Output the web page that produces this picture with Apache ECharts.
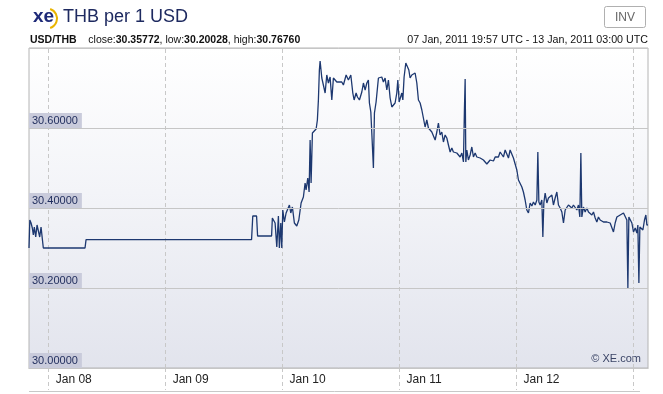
<!DOCTYPE html>
<html>
<head>
<meta charset="utf-8">
<script src="https://cdn.jsdelivr.net/npm/echarts@6/dist/echarts.min.js"></script>
<style>
html,body{margin:0;padding:0;background:#fff;}
#chart{width:663px;height:394px;}
</style>
</head>
<body>
<div id="chart"></div>
<script>
// Hours since 08 Jan 2011 00:00 UTC
const hours = [
-4.05,-3.88,-3.63,-3.37,-3.16,-2.96,-2.67,-2.40,-2.14,-1.85,-1.58,-1.31,-1.11,
7.45,7.66,41.63,41.88,42.66,42.87,45.74,45.90,46.46,46.81,47.14,47.34,47.63,47.83,
48.04,48.37,48.72,49.07,49.40,49.68,50.01,50.42,50.91,51.33,51.80,52.27,52.62,52.82,
53.17,53.44,53.65,53.85,54.12,54.47,54.88,55.14,55.35,55.55,55.70,56.05,56.38,56.73,
57.07,57.40,57.75,58.10,58.43,58.78,59.13,59.46,60.15,60.48,61.04,61.51,62.00,62.41,
62.68,63.09,63.36,63.77,64.26,64.59,64.94,65.29,65.61,65.82,66.11,66.31,66.64,66.85,
67.19,67.46,67.67,68.02,68.36,68.69,69.04,69.39,69.72,70.07,70.42,70.75,71.09,71.44,
71.65,71.92,72.18,72.47,72.68,72.94,73.29,73.62,73.91,74.17,74.52,74.85,75.20,75.55,
75.88,76.23,76.58,76.90,77.25,77.60,77.93,78.28,78.63,78.96,79.31,79.66,79.98,80.33,
80.68,81.01,81.36,81.71,82.04,82.39,82.74,83.06,83.41,83.76,84.09,84.44,84.79,85.12,
85.32,85.47,85.61,85.82,86.14,86.49,86.84,87.17,87.52,87.87,88.20,88.55,88.89,89.22,
89.57,89.92,90.25,90.60,90.95,91.28,91.63,91.97,92.30,92.65,93.00,93.33,93.68,94.03,
94.36,94.70,95.05,95.38,95.73,96.08,96.41,96.76,97.11,97.43,97.78,98.13,98.46,98.81,
99.16,99.49,99.84,100.19,100.39,100.60,100.86,101.21,101.42,101.62,101.89,102.24,102.57,
102.92,103.27,103.59,103.94,104.29,104.62,104.97,105.32,105.65,106.00,106.35,106.67,
107.02,107.37,107.70,108.05,108.40,108.73,109.01,109.22,109.42,109.75,110.10,110.45,
110.78,111.13,111.48,111.81,112.16,112.50,112.83,113.18,113.53,113.86,114.21,114.56,
114.89,115.23,115.58,115.91,116.26,116.61,116.94,117.29,117.64,117.97,118.31,118.66,
118.87,119.07,119.34,119.69,120.02,120.37,120.72,120.92,121.13,121.33,121.60,121.95,
122.28,122.56,122.77,123.00
];
const rates = [
30.3000,30.3700,30.3625,30.3500,30.3325,30.3525,30.3275,30.3575,30.3525,30.3275,30.3525,30.3475,30.3000,
30.3000,30.3210,30.3210,30.3800,30.3800,30.3300,30.3300,30.3750,30.3625,30.3025,30.3800,30.3000,30.3625,30.3000,
30.3950,30.3650,30.3875,30.3825,30.4075,30.3875,30.4025,30.3625,30.3550,30.3700,30.4125,30.4275,30.4625,30.4450,
30.4750,30.4400,30.5700,30.4625,30.5875,30.5900,30.5975,30.6200,30.6700,30.7450,30.7676,30.7250,30.7275,30.6875,
30.7325,30.7125,30.7275,30.6700,30.7250,30.7275,30.7150,30.7100,30.7150,30.7075,30.7325,30.7200,30.7325,30.6875,
30.6700,30.6875,30.6775,30.6700,30.6900,30.7125,30.6950,30.7125,30.7200,30.6625,30.6400,30.5875,30.5000,30.6375,
30.6650,30.6625,30.7250,30.7200,30.7275,30.7150,30.7250,30.6950,30.7200,30.6750,30.6525,30.6500,30.6625,30.6875,
30.7200,30.6650,30.6700,30.6875,30.6700,30.7275,30.7625,30.7575,30.7450,30.7250,30.7325,30.7275,30.7375,30.7125,
30.6700,30.6625,30.6450,30.6250,30.6025,30.6200,30.6000,30.5950,30.5900,30.5875,30.5700,30.5900,30.6125,30.5825,
30.5900,30.5650,30.5825,30.5750,30.5575,30.5400,30.5500,30.5400,30.5450,30.5375,30.5400,30.5275,30.5375,30.5150,
30.6450,30.7225,30.5150,30.5450,30.5200,30.5325,30.5525,30.5275,30.5375,30.5275,30.5325,30.5250,30.5275,30.5200,
30.5150,30.5100,30.5150,30.5200,30.5250,30.5175,30.5275,30.5325,30.5275,30.5400,30.5450,30.5275,30.5450,30.5400,
30.5250,30.5450,30.5400,30.5250,30.5200,30.4950,30.4700,30.4650,30.4525,30.4400,30.4200,30.3950,30.3875,30.4125,
30.4050,30.4150,30.4075,30.4200,30.5400,30.4150,30.4075,30.4200,30.3275,30.4125,30.4375,30.4125,30.4250,
30.4200,30.4325,30.4075,30.4250,30.4400,30.4075,30.4000,30.3900,30.3625,30.3950,30.4000,30.4075,
30.4025,30.4000,30.4075,30.4025,30.3950,30.4075,30.3775,30.5375,30.3775,30.4025,30.3900,30.4000,
30.3900,30.3950,30.3825,30.3900,30.3750,30.3650,30.3775,30.3700,30.3750,30.3650,30.3700,30.3650,
30.3650,30.3625,30.3625,30.3400,30.3625,30.3775,30.3750,30.3825,30.3775,30.3875,30.3825,30.3700,
30.20028,30.3775,30.3825,30.3625,30.3400,30.3500,30.3375,30.3575,30.2125,30.3525,30.3575,30.3450,
30.3700,30.3825,30.3575,30.35772
];
const dayTicks = [0, 24, 48, 72, 96, 120];
const tickLabels = ['Jan 08', 'Jan 09', 'Jan 10', 'Jan 11', 'Jan 12'];
const yTicks = [30.0, 30.2, 30.4, 30.6, 30.8];

const chart = echarts.init(document.getElementById('chart'), null, {renderer: 'canvas'});
const data = hours.map((h, i) => [h, rates[i]]);
const FONT = 'Arial, "Liberation Sans", sans-serif';

chart.setOption({
  animation: false,
  backgroundColor: '#ffffff',
  grid: {
    left: 29, right: 15, top: 48, bottom: 26,
    show: true,
    borderColor: '#b4b4b4',
    borderWidth: 1,
    backgroundColor: {
      type: 'linear', x: 0, y: 0, x2: 0, y2: 1,
      colorStops: [
        {offset: 0, color: '#ffffff'},
        {offset: 0.45, color: '#f3f4f8'},
        {offset: 1, color: '#e2e4ed'}
      ]
    }
  },
  xAxis: {
    type: 'value',
    min: hours[0],
    max: hours[hours.length - 1],
    z: 1,
    axisLine: {show: true, lineStyle: {color: '#a8a8a8', width: 1}},
    axisTick: {
      show: true,
      customValues: dayTicks,
      length: 22,
      lineStyle: {color: '#c8c8c8', type: [4, 3]}
    },
    splitLine: {show: false},
    axisLabel: {
      customValues: dayTicks.slice(0, tickLabels.length),
      formatter: v => tickLabels[Math.round(v / 24)] || '',
      align: 'left',
      padding: [0, 0, 0, 7],
      margin: 6,
      color: '#222',
      fontSize: 12,
      fontFamily: FONT
    }
  },
  yAxis: {
    type: 'value',
    min: yTicks[0],
    max: yTicks[yTicks.length - 1],
    interval: 0.2,
    z: 4,
    axisLine: {show: false},
    axisTick: {show: false},
    splitLine: {show: true, lineStyle: {color: '#c6c6c6', width: 1}},
    axisLabel: {
      inside: true,
      showMaxLabel: false,
      margin: 0,
      align: 'left',
      verticalAlign: 'bottom',
      formatter: v => v.toFixed(5),
      color: '#1f2c5c',
      fontSize: 11,
      fontFamily: FONT,
      backgroundColor: '#c9cbdb',
      padding: [2, 4, 1, 3],
      lineHeight: 12
    }
  },
  series: [{
    type: 'line',
    data: data,
    showSymbol: false,
    symbol: 'none',
    lineStyle: {color: '#1d3870', width: 1.3},
    z: 3,
    markLine: {
      silent: true,
      symbol: ['none', 'none'],
      label: {show: false},
      lineStyle: {color: '#c8c8c8', type: [4, 3], width: 1},
      data: dayTicks.map(d => ({xAxis: d})),
      z: 2
    }
  }],
  graphic: [
    {type: 'text', left: 33, top: 7, style: {text: 'xe', fill: '#1e2a78', font: 'bold 19px ' + FONT}},
    {type: 'arc', shape: {cx: 47, cy: 18.5, r: 10, startAngle: -1.25, endAngle: 1.25}, style: {stroke: '#e9b400', lineWidth: 2, fill: null}},
    {type: 'text', left: 63, top: 8, style: {text: 'THB per 1 USD', fill: '#1e2a60', font: '18px ' + FONT}},
    {type: 'rect', shape: {x: 604.5, y: 6.5, width: 41, height: 21, r: 2}, style: {fill: '#ffffff', stroke: '#b0b0b0', lineWidth: 1}},
    {type: 'text', x: 625, y: 17.5, style: {text: 'INV', fill: '#666', font: '12px ' + FONT, align: 'center', verticalAlign: 'middle'}},
    {type: 'text', left: 30, top: 35, style: {
      rich: {b: {fontWeight: 'bold', fontSize: 10.5, fontFamily: FONT, fill: '#111'}},
      text: '{b|USD/THB}    close:{b|30.35772}, low:{b|30.20028}, high:{b|30.76760}',
      fill: '#111', font: '10.5px ' + FONT
    }},
    {type: 'text', right: 15, top: 35, style: {text: '07 Jan, 2011 19:57 UTC - 13 Jan, 2011 03:00 UTC', fill: '#111', font: '10.7px ' + FONT}},
    {type: 'text', right: 22, top: 353, style: {text: '\u00a9 XE.com', fill: '#3a4466', font: '11px ' + FONT}},
    {type: 'line', shape: {x1: 29, y1: 391.5, x2: 640, y2: 391.5}, style: {stroke: '#c8c8c8', lineWidth: 1}}
  ]
});
</script>
</body>
</html>
